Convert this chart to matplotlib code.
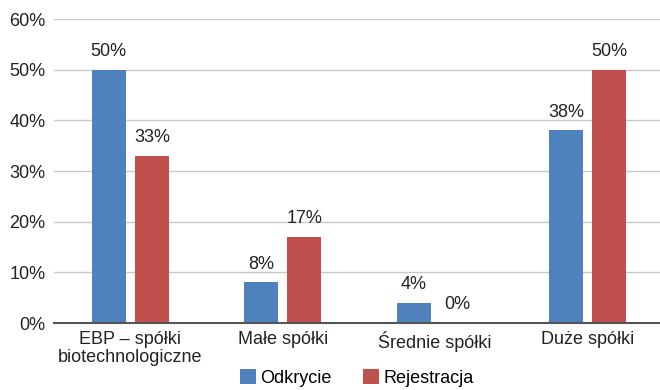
import matplotlib
matplotlib.use("Agg")
import matplotlib.pyplot as plt
import numpy as np

categories = ["EBP – spółki\nbiotechnologiczne", "Małe spółki", "Średnie spółki", "Duże spółki"]
series_names = ["Odkrycie", "Rejestracja"]
odkrycie = [50, 8, 4, 38]
rejestracja = [33, 17, 0, 50]
colors = ["#4f81bd", "#c0504d"]
yticks = [0, 10, 20, 30, 40, 50, 60]

plt.rcParams["font.family"] = ["Liberation Sans", "DejaVu Sans"]
FS = 13
TXT = "#222222"

W, H = 660, 390
fig = plt.figure(figsize=(W / 100, H / 100), dpi=100)
ax = fig.add_axes([54 / W, 1 - 323 / H, 610 / W, (323 - 19) / H])

x = np.arange(len(categories))
bw = 0.223
off = 0.142
for vals, dx, c, name in [(odkrycie, -off, colors[0], series_names[0]),
                          (rejestracja, off, colors[1], series_names[1])]:
    bars = ax.bar(x + dx, vals, width=bw, color=c, label=name, zorder=3)
    for b, v in zip(bars, vals):
        ax.annotate(f"{v}%", (b.get_x() + b.get_width() / 2, v),
                    xytext=(0, 7), textcoords="offset points",
                    ha="center", va="bottom", color=TXT, fontsize=FS)

ax.set_xlim(-0.5, len(categories) - 0.5)
ax.set_ylim(0, 60)
ax.set_yticks(yticks)
ax.set_yticklabels([f"{t}%" for t in yticks], color=TXT, fontsize=FS)
ax.set_xticks(x)
ax.set_xticklabels(categories, color=TXT, fontsize=FS, linespacing=1.05)
ax.tick_params(axis="both", length=0)
ax.tick_params(axis="y", pad=6)
ax.tick_params(axis="x", pad=6)
ax.grid(axis="y", color="#c8c8c8", linewidth=1, zorder=0)
for s in ["top", "right", "left"]:
    ax.spines[s].set_visible(False)
ax.spines["bottom"].set_color("#555555")
ax.spines["bottom"].set_linewidth(1.5)
ax.spines["bottom"].set_zorder(4)

fig.legend(loc="lower left", bbox_to_anchor=(240 / W, 3 / H), ncol=2,
           frameon=False, handlelength=0.89, handleheight=0.89,
           handletextpad=0.22, columnspacing=1.75, fontsize=FS,
           borderaxespad=0, borderpad=0)

fig.savefig("out.png", dpi=100)
